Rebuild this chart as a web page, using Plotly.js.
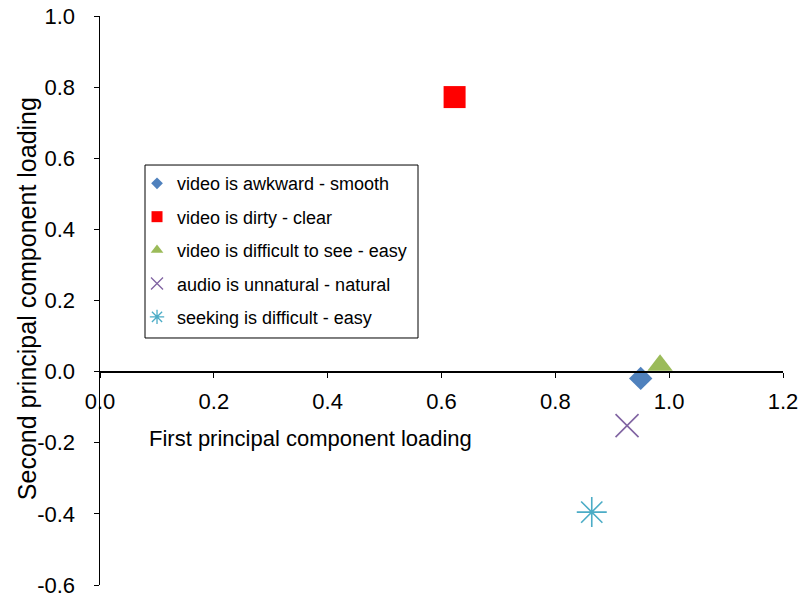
<!DOCTYPE html>
<html>
<head>
<meta charset="utf-8">
<script src="https://cdn.plot.ly/plotly-3.0.1.min.js"></script>
<style>html,body{margin:0;padding:0;background:#fff;}#chart{width:801px;height:598px;}</style>
</head>
<body>
<div id="chart"></div>
<script>
const seriesNames = [
  "video is awkward - smooth",
  "video is dirty - clear",
  "video is difficult to see - easy",
  "audio is unnatural - natural",
  "seeking is difficult - easy"
];
const firstLoading = [0.95, 0.623, 0.984, 0.926, 0.864];
const secondLoading = [-0.019, 0.772, 0.018, -0.152, -0.395];
const xTickVals = [0, 0.2, 0.4, 0.6, 0.8, 1.0, 1.2];
const xTickText = ["0.0", "0.2", "0.4", "0.6", "0.8", "1.0", "1.2"];
const yTickVals = [-0.6, -0.4, -0.2, 0, 0.2, 0.4, 0.6, 0.8, 1.0];
const yTickText = ["-0.6", "-0.4", "-0.2", "0.0", "0.2", "0.4", "0.6", "0.8", "1.0"];
const xTitle = "First principal component loading";
const yTitle = "Second principal component loading";

const colors = ["#4F81BD", "#FF0000", "#9BBB59", "#8064A2", "#4BACC6"];
const symbols = ["diamond", "square", "triangle-up", "x-thin", "asterisk"];
const sizes = [18, 22, 22, 23, 25];
const legendSizes = [9, 11, 11, 12, 12];

const traces = [];
seriesNames.forEach((name, i) => {
  const open = symbols[i] === "x-thin" || symbols[i] === "asterisk";
  traces.push({
    type: "scatter", mode: "markers", name: name, showlegend: false,
    x: [firstLoading[i]], y: [secondLoading[i]],
    marker: {symbol: symbols[i], size: sizes[i], color: colors[i],
      line: open ? {color: colors[i], width: 1.6} : {width: 0}}
  });
});
seriesNames.forEach((name, i) => {
  const open = symbols[i] === "x-thin" || symbols[i] === "asterisk";
  traces.push({
    type: "scatter", mode: "markers", name: name, showlegend: true,
    legendgroup: "g" + i,
    x: [null], y: [null],
    marker: {symbol: symbols[i], size: legendSizes[i], color: colors[i],
      line: open ? {color: colors[i], width: 1.3} : {width: 0}}
  });
});

const font = {family: "Liberation Sans, Arial, Helvetica, sans-serif", color: "#000"};

const layout = {
  width: 801, height: 598,
  margin: {l: 100, r: 18, t: 16, b: 13},
  paper_bgcolor: "#fff", plot_bgcolor: "#fff",
  font: Object.assign({size: 22}, font),
  showlegend: true,
  legend: {
    x: 0.0542, y: 0.738, xanchor: "left", yanchor: "top",
    borderwidth: 0, bgcolor: "rgba(0,0,0,0)",
    font: Object.assign({size: 18}, font),
    tracegroupgap: 7, itemwidth: 30
  },
  shapes: [{
    type: "rect", xref: "paper", yref: "paper",
    x0: 0.0659, x1: 0.4656, y0: 0.4341, y1: 0.7381,
    line: {color: "#000", width: 1}, fillcolor: "rgba(0,0,0,0)", layer: "below"
  }],
  xaxis: {
    range: [0, 1.2], anchor: "free", position: 0.375,
    tickvals: xTickVals, ticktext: xTickText,
    showgrid: false, zeroline: false,
    showline: true, linecolor: "#000", linewidth: 2,
    ticks: "outside", ticklen: 5, tickwidth: 1, tickcolor: "#000",
    tickfont: Object.assign({size: 22}, font),
    ticklabelstandoff: 5
  },
  yaxis: {
    range: [-0.6, 1.0],
    tickvals: yTickVals, ticktext: yTickText,
    showgrid: false, zeroline: false,
    showline: true, linecolor: "#000", linewidth: 1.5,
    ticks: "outside", ticklen: 5, tickwidth: 1, tickcolor: "#000",
    tickfont: Object.assign({size: 22}, font),
    ticklabelstandoff: 14
  },
  annotations: [{
    text: xTitle,
    xref: "x", yref: "y", x: 0.0826, y: -0.188,
    xanchor: "left", yanchor: "middle", showarrow: false,
    font: Object.assign({size: 22}, font)
  }, {
    text: yTitle, textangle: -90,
    xref: "paper", yref: "paper", x: -0.107, y: 0.504,
    xanchor: "center", yanchor: "middle", showarrow: false,
    font: Object.assign({size: 25}, font)
  }]
};

Plotly.newPlot("chart", traces, layout, {displayModeBar: false, staticPlot: true});
</script>
</body>
</html>
